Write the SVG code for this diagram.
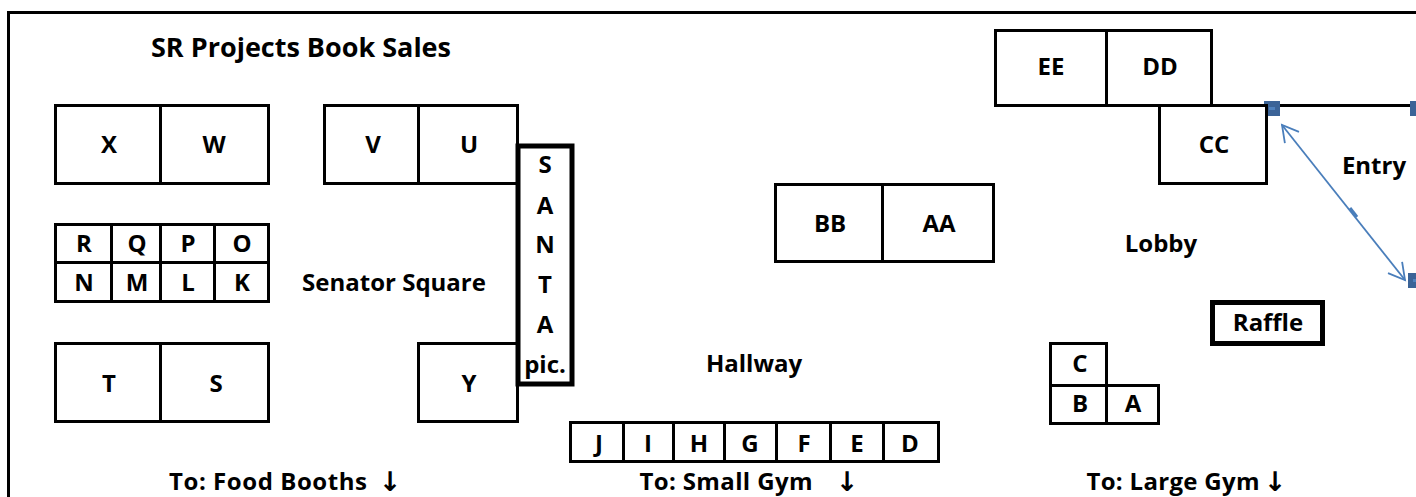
<svg xmlns="http://www.w3.org/2000/svg" width="1416" height="497" viewBox="0 0 1416 497">
<defs>
<style>
.b{fill:#fff;stroke:#000;stroke-width:3}
.h{fill:#fff;stroke:#000;stroke-width:5}
text{font-family:"Open Sans","Liberation Sans",sans-serif;font-weight:700;font-size:24px;fill:#000;text-anchor:middle}
.t{font-size:27px}
.ar{font-family:"DejaVu Sans",sans-serif;font-size:27px}
.hd{fill:#3b6397}
.hc{fill:#4f81bd}
</style>
<marker id="a" markerWidth="20" markerHeight="20" refX="17" refY="10" orient="auto-start-reverse" markerUnits="userSpaceOnUse"><path d="M1 1L17 10L1 19" fill="none" stroke="#4a7ebb" stroke-width="1.8"/></marker>
</defs>
<rect width="1416" height="497" fill="#fff"/>
<path d="M8.500 497V12.500H1416" fill="none" stroke="#000" stroke-width="3"/>
<text class="t" x="301" y="57">SR Projects Book Sales</text>
<text x="394" y="291">Senator Square</text>
<text x="754" y="372">Hallway</text>
<text x="1161" y="252">Lobby</text>
<text x="1374" y="174">Entry</text>
<text x="268" y="490" textLength="198">To: Food Booths</text><text class="ar" x="390" y="491">↓</text>
<text x="726" y="490" textLength="173">To: Small Gym</text><text class="ar" x="847" y="491">↓</text>
<text x="1173" y="490" textLength="173">To: Large Gym</text><text class="ar" x="1275" y="491">↓</text>
<g id="connectors">
<path d="M1211 105.500H1416" fill="none" stroke="#000" stroke-width="3"/>
<path d="M1282 125L1405 280" fill="none" stroke="#4a7ebb" stroke-width="1.800" marker-start="url(#a)" marker-end="url(#a)"/>
<path d="M1350 208l7 9" fill="none" stroke="#4a7ebb" stroke-width="3"/>
</g>
<g id="handles">
<rect class="hd" x="1264" y="101" width="16" height="15"/><rect class="hc" x="1269" y="107" width="6" height="3"/>
<rect class="hd" x="1410" y="101" width="6" height="15"/>
<rect class="hd" x="1408" y="273" width="8" height="15"/><rect class="hc" x="1413" y="279" width="3" height="3"/>
</g>
<g id="node-x"><rect class="b" x="55.500" y="105.500" width="105" height="78"/><text x="109" y="153">X</text></g>
<g id="node-w"><rect class="b" x="160.500" y="105.500" width="108" height="78"/><text x="214" y="153">W</text></g>
<g id="node-v"><rect class="b" x="324.500" y="105.500" width="94" height="78"/><text x="373" y="153">V</text></g>
<g id="node-u"><rect class="b" x="418.500" y="105.500" width="99" height="78"/><text x="469" y="153">U</text></g>
<g id="node-r"><rect class="b" x="55.500" y="224.500" width="56" height="38"/><text x="84" y="252">R</text></g>
<g id="node-q"><rect class="b" x="111.500" y="224.500" width="49" height="38"/><text x="137" y="252">Q</text></g>
<g id="node-p"><rect class="b" x="160.500" y="224.500" width="54" height="38"/><text x="188" y="252">P</text></g>
<g id="node-o"><rect class="b" x="214.500" y="224.500" width="54" height="38"/><text x="242" y="252">O</text></g>
<g id="node-n"><rect class="b" x="55.500" y="262.500" width="56" height="39"/><text x="84" y="291">N</text></g>
<g id="node-m"><rect class="b" x="111.500" y="262.500" width="49" height="39"/><text x="137" y="291">M</text></g>
<g id="node-l"><rect class="b" x="160.500" y="262.500" width="54" height="39"/><text x="188" y="291">L</text></g>
<g id="node-k"><rect class="b" x="214.500" y="262.500" width="54" height="39"/><text x="242" y="291">K</text></g>
<g id="node-t"><rect class="b" x="55.500" y="343.500" width="105" height="78"/><text x="109" y="392">T</text></g>
<g id="node-s"><rect class="b" x="160.500" y="343.500" width="108" height="78"/><text x="216" y="392">S</text></g>
<g id="node-y"><rect class="b" x="418.500" y="343.500" width="99" height="78"/><text x="469" y="392">Y</text></g>
<g id="node-santa"><rect class="h" x="518" y="146" width="54" height="238"/>
<text x="545" y="173">S</text><text x="545" y="214">A</text><text x="545" y="253">N</text><text x="545" y="293">T</text><text x="545" y="333">A</text><text x="545" y="373">pic.</text></g>
<g id="node-j"><rect class="b" x="570.500" y="422.500" width="53" height="39"/><text x="599" y="452">J</text></g>
<g id="node-i"><rect class="b" x="623.500" y="422.500" width="50" height="39"/><text x="648" y="452">I</text></g>
<g id="node-h"><rect class="b" x="673.500" y="422.500" width="51" height="39"/><text x="699" y="452">H</text></g>
<g id="node-g"><rect class="b" x="724.500" y="422.500" width="52" height="39"/><text x="750" y="452">G</text></g>
<g id="node-f"><rect class="b" x="776.500" y="422.500" width="54" height="39"/><text x="804" y="452">F</text></g>
<g id="node-e"><rect class="b" x="830.500" y="422.500" width="53" height="39"/><text x="857" y="452">E</text></g>
<g id="node-d"><rect class="b" x="883.500" y="422.500" width="55" height="39"/><text x="910" y="452">D</text></g>
<g id="node-bb"><rect class="b" x="775.500" y="184.500" width="107" height="77"/><text x="830" y="232">BB</text></g>
<g id="node-aa"><rect class="b" x="882.500" y="184.500" width="111" height="77"/><text x="939" y="232">AA</text></g>
<g id="node-ee"><rect class="b" x="995.500" y="30.500" width="111" height="75"/><text x="1051" y="75">EE</text></g>
<g id="node-dd"><rect class="b" x="1106.500" y="30.500" width="105" height="75"/><text x="1160" y="75">DD</text></g>
<g id="node-cc"><rect class="b" x="1159.500" y="105.500" width="107" height="78"/><text x="1214" y="153">CC</text></g>
<g id="node-c"><rect class="b" x="1050.500" y="343.500" width="56" height="42"/><text x="1080" y="372">C</text></g>
<g id="node-b"><rect class="b" x="1050.500" y="385.500" width="56" height="38"/><text x="1080" y="412">B</text></g>
<g id="node-a"><rect class="b" x="1106.500" y="385.500" width="52" height="38"/><text x="1133" y="412">A</text></g>
<g id="node-raffle"><rect class="h" x="1212.500" y="302.500" width="110" height="41"/><text x="1268" y="331">Raffle</text></g>
</svg>
